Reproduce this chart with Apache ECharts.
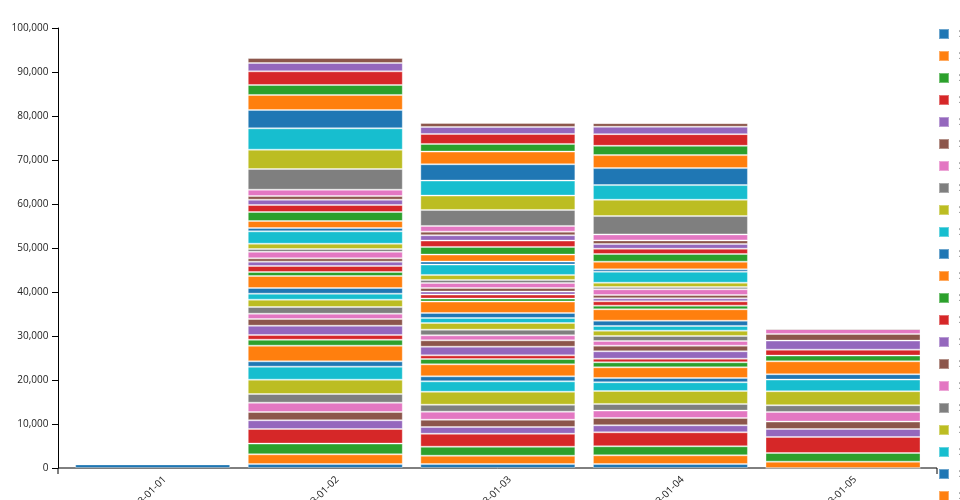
<!DOCTYPE html>
<html>
<head>
<meta charset="utf-8">
<script src="https://cdn.jsdelivr.net/npm/echarts@6/dist/echarts.min.js"></script>
<style>
  html, body { margin: 0; padding: 0; background: #fff; }
  #chart { width: 960px; height: 500px; }
</style>
</head>
<body>
<div id="chart"></div>
<script>
const categories = ['2023-01-01', '2023-01-02', '2023-01-03', '2023-01-04', '2023-01-05'];

const seriesNames = [];
for (let i = 1; i <= 46; i++) seriesNames.push('Series ' + i);

// one value per series, bottom of the stack first
const day1 = [830, 0, 0, 0, 0, 0, 0, 0, 0, 0, 0, 0, 0, 0, 0, 0, 0, 0, 0, 0, 0, 0, 0,
  0, 0, 0, 0, 0, 0, 0, 0, 0, 0, 0, 0, 0, 0, 0, 0, 0, 0, 0, 0, 0, 0, 0];
const day2 = [910, 2200, 2430, 3330, 1970, 1890, 2120, 1970, 3260, 2950,
  1210, 3560, 1360, 1060, 2120, 1520, 1210, 1520, 1670, 1360,
  1290, 2730, 910, 1360, 980, 760, 1480, 640, 1210, 2800,
  760, 1590, 2050, 1590, 1210, 830, 1440, 4700, 4400, 4850,
  4170, 3410, 2270, 3100, 1890, 1140];
const day3 = [900, 1890, 2050, 2950, 1520, 1670, 1820, 1590, 2950, 2350,
  1140, 2730, 1210, 830, 1970, 1440, 1140, 1290, 1520, 1140,
  1140, 2580, 680, 910, 680, 830, 1140, 680, 1140, 2350,
  680, 1590, 1740, 1440, 1210, 830, 1290, 3640, 3260, 3410,
  3710, 2880, 1740, 2270, 1590, 910];
const day4 = [910, 1970, 2050, 3180, 1590, 1670, 1670, 1520, 2950, 1970,
  980, 2420, 1140, 830, 1670, 1290, 1060, 1140, 1210, 1060,
  1210, 2580, 830, 980, 680, 760, 1290, 530, 980, 2500,
  530, 1740, 1740, 1210, 1060, 830, 1360, 4170, 3710, 3330,
  3860, 2950, 2120, 2650, 1670, 830];
const day5 = [0, 1440, 1970, 3640, 1820, 1670, 2200, 1520, 3180, 2650,
  1210, 2950, 1290, 1360, 2050, 1520, 1210, 0, 0, 0,
  0, 0, 0, 0, 0, 0, 0, 0, 0, 0, 0, 0, 0, 0, 0, 0, 0, 0, 0, 0, 0, 0, 0, 0, 0, 0];

const yTicks = { min: 0, max: 100000, interval: 10000 };

const palette = ['#1f77b4', '#ff7f0e', '#2ca02c', '#d62728', '#9467bd',
  '#8c564b', '#e377c2', '#7f7f7f', '#bcbd22', '#17becf'];

const days = [day1, day2, day3, day4, day5];
const series = seriesNames.map((name, sid) => {
  return {
    name,
    type: 'bar',
    stack: 'total',
    barWidth: 155,
    itemStyle: {
      color: palette[sid % 10],
      borderColor: 'rgba(255,255,255,0.35)',
      borderWidth: 1
    },
    data: days.map(d => d[sid])
  }
});

const chart = echarts.init(document.getElementById('chart'), null, { renderer: 'canvas' });
const option = {
  animation: false,
  color: palette,
  textStyle: { fontFamily: 'Open Sans' },
  grid: { left: 66.4, right: 30.7, top: 28, bottom: 32, outerBoundsMode: 'none', containLabel: false },
  legend: {
    orient: 'vertical',
    left: 938,
    top: 28,
    padding: 0,
    height: 2000,
    itemWidth: 10,
    itemHeight: 10,
    itemGap: 10,
    icon: 'rect',
    selectedMode: false,
    textStyle: { fontSize: 10, color: '#000', padding: [0, 0, 0, 5] },
    data: seriesNames
  },
  xAxis: {
    type: 'category',
    data: categories,
    axisLine: { show: false },
    axisTick: { alignWithLabel: true, length: 6, lineStyle: { color: '#000' } },
    axisLabel: {
      rotate: 45, fontSize: 10, color: '#222', margin: -2,
      align: 'right', verticalAlign: 'top', lineHeight: 34
    }
  },
  yAxis: {
    type: 'value',
    min: yTicks.min,
    max: yTicks.max,
    interval: yTicks.interval,
    offset: 8.4,
    splitLine: { show: false },
    axisLine: { show: true, lineStyle: { color: '#000' } },
    axisTick: { show: true, length: 6, lineStyle: { color: '#000' } },
    axisLabel: {
      fontSize: 10,
      color: '#222',
      margin: 9.5,
      formatter: v => v.toLocaleString('en-US')
    }
  },
  graphic: [{
    type: 'polyline',
    silent: true,
    shape: { points: [[58, 474], [58, 468], [937, 468], [937, 474]] },
    style: { stroke: '#000', lineWidth: 1, fill: null }
  }],
  series
};
chart.setOption(option);
</script>
</body>
</html>
